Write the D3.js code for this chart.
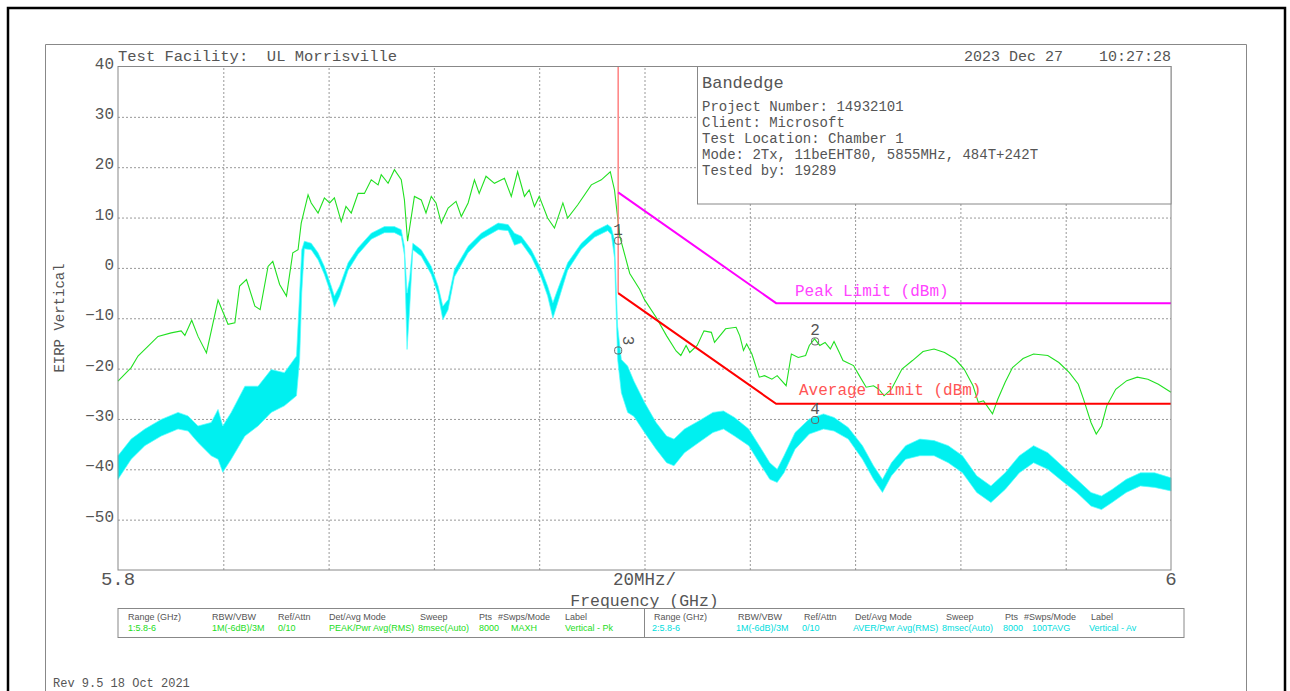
<!DOCTYPE html>
<html>
<head>
<meta charset="utf-8">
<script src="https://cdn.jsdelivr.net/npm/d3@7"></script>
<style>
  body { margin: 0; background: #fff; }
  text { font-family: "Liberation Mono", "DejaVu Sans Mono", monospace; fill: #555; }
</style>
</head>
<body>
<svg id="chart" width="1290" height="691"></svg>
<script>
// peak trace (MAXH), GHz / dBm
const peakFreq = [5.8000,5.8025,5.8038,5.8051,5.8076,5.8101,5.8120,5.8127,5.8140,5.8152,5.8168,5.8190,5.8209,5.8222,5.8231,5.8244,5.8260,5.8270,5.8285,5.8294,5.8307,5.8320,5.8332,5.8342,5.8348,5.8361,5.8367,5.8380,5.8392,5.8402,5.8411,5.8424,5.8433,5.8443,5.8456,5.8468,5.8481,5.8494,5.8500,5.8513,5.8525,5.8538,5.8544,5.8550,5.8563,5.8576,5.8585,5.8595,5.8604,5.8614,5.8627,5.8642,5.8652,5.8665,5.8677,5.8686,5.8699,5.8715,5.8734,5.8747,5.8759,5.8772,5.8781,5.8791,5.8800,5.8816,5.8829,5.8845,5.8854,5.8873,5.8899,5.8918,5.8935,5.8943,5.8953,5.8972,5.8991,5.9000,5.9022,5.9042,5.9060,5.9069,5.9079,5.9086,5.9100,5.9113,5.9127,5.9133,5.9154,5.9174,5.9181,5.9188,5.9194,5.9204,5.9218,5.9228,5.9242,5.9252,5.9269,5.9279,5.9292,5.9306,5.9313,5.9323,5.9333,5.9343,5.9353,5.9360,5.9370,5.9377,5.9397,5.9408,5.9421,5.9435,5.9445,5.9455,5.9469,5.9489,5.9509,5.9529,5.9550,5.9570,5.9590,5.9607,5.9624,5.9634,5.9644,5.9661,5.9671,5.9685,5.9699,5.9719,5.9739,5.9766,5.9787,5.9807,5.9824,5.9834,5.9848,5.9858,5.9868,5.9878,5.9895,5.9916,5.9936,5.9956,5.9976,6.0000];
const peakDbm = [-22.5,-19.8,-17.5,-16.2,-13.6,-12.9,-12.5,-13.4,-10.4,-13.6,-16.9,-6.4,-11.2,-10.9,-3.6,-2.3,-7.6,-8.3,0.3,1.3,-3.3,-5.6,3.0,3.6,8.9,14.5,12.9,10.9,13.9,12.9,13.9,9.2,12.2,10.9,14.8,14.8,17.5,16.5,18.5,16.8,19.5,17.5,13.5,5.3,14.2,13.5,10.9,14.2,12.9,8.9,11.9,13.2,10.2,12.9,17.5,14.8,18.2,16.8,17.8,14.2,19.1,14.2,15.5,12.2,14.2,9.9,7.9,12.9,9.9,12.5,16.5,17.5,19.1,15.5,6.3,-1.1,-4.3,-6.3,-9.8,-13.5,-16.5,-17.4,-15.4,-16.8,-15.4,-12.5,-12.8,-14.8,-12.1,-11.8,-13.5,-16.4,-15.1,-17.1,-21.7,-21.4,-22.1,-21.4,-23.4,-17.1,-17.8,-17.4,-15.4,-14.1,-15.4,-14.8,-16.1,-14.6,-16.8,-18.4,-19.4,-21.4,-23.7,-23.4,-24.1,-25.4,-24.1,-20.1,-18.4,-16.6,-16.1,-16.8,-18.1,-20.1,-23.4,-26.7,-26.4,-29.0,-26.1,-22.7,-19.8,-18.0,-17.1,-17.4,-18.8,-20.8,-23.1,-26.1,-30.7,-33.0,-31.4,-27.4,-24.1,-22.4,-21.7,-22.1,-23.1,-24.7];

// average trace (100TAVG), read as upper / lower edge of the noisy band
const avgFreq = [5.8000,5.8025,5.8051,5.8082,5.8114,5.8133,5.8152,5.8177,5.8190,5.8199,5.8215,5.8241,5.8266,5.8291,5.8316,5.8339,5.8345,5.8349,5.8354,5.8367,5.8380,5.8392,5.8405,5.8411,5.8421,5.8437,5.8456,5.8481,5.8506,5.8525,5.8538,5.8544,5.8549,5.8554,5.8560,5.8576,5.8595,5.8608,5.8617,5.8627,5.8639,5.8665,5.8690,5.8722,5.8741,5.8753,5.8766,5.8785,5.8804,5.8816,5.8826,5.8835,5.8854,5.8880,5.8905,5.8930,5.8937,5.8943,5.8949,5.8956,5.8968,5.8980,5.9000,5.9022,5.9042,5.9056,5.9076,5.9103,5.9130,5.9150,5.9171,5.9198,5.9218,5.9238,5.9252,5.9265,5.9286,5.9313,5.9340,5.9360,5.9387,5.9414,5.9435,5.9452,5.9469,5.9496,5.9523,5.9550,5.9577,5.9604,5.9631,5.9658,5.9685,5.9712,5.9739,5.9766,5.9793,5.9821,5.9848,5.9868,5.9888,5.9915,5.9942,5.9969,6.0000];
const avgHigh = [-37.3,-34.0,-32.0,-30.1,-28.7,-29.4,-31.4,-30.7,-28.1,-31.4,-28.7,-23.5,-23.5,-20.2,-20.8,-17.5,-5.0,3.6,5.3,4.9,3.0,0.3,-3.6,-5.6,-3.6,1.0,4.0,6.9,8.2,8.2,7.6,4.3,-5.0,-2.0,4.9,3.6,0.3,-3.6,-7.6,-6.3,-0.3,4.3,6.9,8.9,8.6,6.9,6.3,3.6,-0.3,-3.6,-6.9,-4.3,1.0,4.9,7.3,8.6,8.0,5.6,-11.6,-18.2,-19.5,-22.5,-26.7,-30.7,-33.4,-34.0,-32.0,-30.4,-28.7,-28.4,-29.7,-32.0,-35.3,-38.7,-40.0,-37.3,-32.7,-30.0,-29.0,-29.7,-31.7,-35.3,-39.3,-42.0,-38.7,-35.3,-34.0,-34.3,-35.3,-37.3,-41.3,-43.3,-40.7,-37.3,-35.3,-36.7,-39.3,-42.0,-44.6,-45.3,-44.0,-42.0,-40.7,-40.7,-41.7];
const avgLow = [-42.0,-38.0,-35.3,-33.4,-32.0,-32.4,-34.7,-37.3,-38.0,-40.6,-38.0,-33.4,-31.4,-28.7,-27.4,-25.4,-18.2,-5.0,3.8,3.6,1.6,-1.3,-5.3,-7.8,-5.6,-0.5,2.7,5.7,7.0,7.0,6.3,2.5,-16.2,-8.0,3.6,2.3,-1.3,-5.3,-10.3,-8.3,-1.8,3.0,5.7,7.6,7.4,4.5,5.0,2.2,-2.0,-5.6,-10.0,-7.0,-0.5,3.7,6.1,7.4,6.6,2.0,-18.2,-24.8,-28.7,-29.5,-32.7,-36.0,-38.7,-39.3,-36.7,-34.7,-32.7,-32.0,-33.4,-35.3,-38.7,-42.0,-42.6,-40.7,-36.0,-33.0,-32.0,-32.4,-34.0,-38.0,-42.0,-44.6,-41.3,-38.0,-37.3,-37.3,-38.7,-40.7,-44.6,-46.6,-44.0,-40.7,-38.7,-40.0,-42.3,-44.6,-47.3,-48.0,-46.6,-44.6,-43.3,-43.6,-44.3];

// limits
const bandEdge = 5.895;
const peakLimitFreq = [5.895, 5.925, 6.0];
const peakLimitDbm = [15, -7, -7];
const avgLimitFreq = [5.895, 5.925, 6.0];
const avgLimitDbm = [-5, -27, -27];

// markers
const markerIds = ["1", "2", "3", "4"];
const markerFreq = [5.895, 5.9324, 5.895, 5.9324];
const markerDbm = [5.4, -14.6, -16.4, -30.2];

const yTicks = [40, 30, 20, 10, 0, -10, -20, -30, -40, -50];
const xGrid = d3.range(1, 10).map(i => 5.8 + i * 0.02);

const infoLines = ["Project Number: 14932101", "Client: Microsoft", "Test Location: Chamber 1",
  "Mode: 2Tx, 11beEHT80, 5855MHz, 484T+242T", "Tested by: 19289"];
const tableHeaders = ["Range (GHz)", "RBW/VBW", "Ref/Attn", "Det/Avg Mode", "Sweep", "Pts", "#Swps/Mode", "Label"];
const trace1Settings = ["1:5.8-6", "1M(-6dB)/3M", "0/10", "PEAK/Pwr Avg(RMS)", "8msec(Auto)", "8000", "MAXH", "Vertical - Pk"];
const trace2Settings = ["2:5.8-6", "1M(-6dB)/3M", "0/10", "AVER/Pwr Avg(RMS)", "8msec(Auto)", "8000", "100TAVG", "Vertical - Av"];

const svg = d3.select("#chart");
const plotL = 118, plotR = 1171, plotT = 66.5, plotB = 570;

const x = d3.scaleLinear().domain([5.8, 6.0]).range([plotL, plotR]);
const y = d3.scaleLinear().domain([-60, 40]).range([plotB, plotT]);

// page frames
svg.append("rect").attr("x", 8).attr("y", 8).attr("width", 1277).attr("height", 700)
  .attr("fill", "none").attr("stroke", "#000").attr("stroke-width", 2.5);
svg.append("path").attr("d", "M45.5,700V44.5H1246.5V700")
  .attr("fill", "none").attr("stroke", "#888").attr("stroke-width", 1);

// grid
svg.append("g").attr("transform", `translate(0,${plotB})`)
  .call(d3.axisBottom(x).tickValues(xGrid).tickSize(-(plotB - plotT)).tickFormat(""))
  .call(g => g.select(".domain").remove())
  .call(g => g.selectAll("line").attr("stroke", "#999").attr("stroke-dasharray", "2,2"));
svg.append("g").attr("transform", `translate(${plotL},0)`)
  .call(d3.axisLeft(y).tickValues(yTicks.slice(1)).tickSize(-(plotR - plotL)).tickFormat(""))
  .call(g => g.select(".domain").remove())
  .call(g => g.selectAll("line").attr("stroke", "#999").attr("stroke-dasharray", "2,2"));

// y tick labels
svg.append("g").attr("transform", `translate(${plotL},0)`)
  .call(d3.axisLeft(y).tickValues(yTicks).tickSize(0).tickPadding(4))
  .call(g => g.select(".domain").remove())
  .call(g => g.selectAll("text").attr("font-size", 16).attr("font-family", "Liberation Mono, monospace")
    .attr("fill", "#555").attr("dy", "0.1em"));

// average trace band
const avgData = avgFreq.map((f, i) => ({ f, hi: avgHigh[i], lo: avgLow[i] }));
svg.append("path").datum(avgData)
  .attr("d", d3.area().x(d => x(d.f)).y0(d => y(d.lo)).y1(d => y(d.hi)))
  .attr("fill", "#00f0f0").attr("stroke", "#55ffff").attr("stroke-width", 0.7);

// peak trace
const peakData = peakFreq.map((f, i) => ({ f, v: peakDbm[i] }));
svg.append("path").datum(peakData)
  .attr("d", d3.line().x(d => x(d.f)).y(d => y(d.v)))
  .attr("fill", "none").attr("stroke", "#22e022").attr("stroke-width", 1.1);

// limit lines
svg.append("line").attr("x1", x(bandEdge)).attr("x2", x(bandEdge))
  .attr("y1", y(40)).attr("y2", y(avgLimitDbm[0]))
  .attr("stroke", "#ff8080").attr("stroke-width", 1.5);
svg.append("path").datum(peakLimitFreq.map((f, i) => [f, peakLimitDbm[i]]))
  .attr("d", d3.line().x(d => x(d[0])).y(d => y(d[1])))
  .attr("fill", "none").attr("stroke", "#ff00ff").attr("stroke-width", 2);
svg.append("path").datum(avgLimitFreq.map((f, i) => [f, avgLimitDbm[i]]))
  .attr("d", d3.line().x(d => x(d[0])).y(d => y(d[1])))
  .attr("fill", "none").attr("stroke", "#ff0000").attr("stroke-width", 2);
svg.append("text").attr("x", 795).attr("y", 296).attr("font-size", 16)
  .style("fill", "#ff44ff").text("Peak Limit (dBm)");
svg.append("text").attr("x", 799).attr("y", 395).attr("font-size", 16)
  .style("fill", "#ff5555").text("Average Limit (dBm)");

// markers
markerIds.forEach((id, i) => {
  const mx = x(markerFreq[i]), my = y(markerDbm[i]);
  svg.append("rect").attr("x", mx - 3.5).attr("y", my - 3.5).attr("width", 7).attr("height", 7)
    .attr("rx", 2.5).attr("fill", "none").attr("stroke", "#666").attr("stroke-width", 1);
  const t = svg.append("text").attr("font-size", 16).attr("text-anchor", "middle").text(id);
  if (id === "3") t.attr("transform", `translate(${mx + 5},${my - 10}) rotate(90)`);
  else t.attr("x", mx).attr("y", my - 6);
});

// plot border
svg.append("rect").attr("x", plotL).attr("y", plotT).attr("width", plotR - plotL).attr("height", plotB - plotT)
  .attr("fill", "none").attr("stroke", "#888").attr("stroke-width", 1);

// info box
svg.append("rect").attr("x", 697.5).attr("y", plotT).attr("width", plotR - 697.5).attr("height", 204 - plotT)
  .attr("fill", "#fff").attr("stroke", "#888").attr("stroke-width", 1);
svg.append("text").attr("x", 702).attr("y", 88).attr("font-size", 17).text("Bandedge");
svg.append("g").selectAll("text").data(infoLines).join("text")
  .attr("x", 702).attr("y", (d, i) => 111 + i * 16).attr("font-size", 14).text(d => d);

// titles
svg.append("text").attr("x", plotL).attr("y", 61).attr("font-size", 15.5).attr("xml:space", "preserve")
  .text("Test Facility:  UL Morrisville");
svg.append("text").attr("x", plotR).attr("y", 61).attr("font-size", 15).attr("text-anchor", "end")
  .attr("xml:space", "preserve").text("2023 Dec 27    10:27:28");
svg.append("text").attr("transform", "translate(64,318) rotate(-90)").attr("font-size", 14)
  .attr("text-anchor", "middle").text("EIRP Vertical");

// x labels
svg.append("text").attr("x", plotL).attr("y", 585).attr("font-size", 19).attr("text-anchor", "middle").text("5.8");
svg.append("text").attr("x", (plotL + plotR) / 2).attr("y", 585).attr("font-size", 17.5).attr("text-anchor", "middle").text("20MHz/");
svg.append("text").attr("x", plotR).attr("y", 585).attr("font-size", 19).attr("text-anchor", "middle").text("6");
svg.append("text").attr("x", (plotL + plotR) / 2).attr("y", 606).attr("font-size", 16.5).attr("text-anchor", "middle").text("Frequency (GHz)");

// settings table
svg.append("rect").attr("x", 118).attr("y", 608.5).attr("width", 1066).attr("height", 29)
  .attr("fill", "#fff").attr("stroke", "#888").attr("stroke-width", 1);
svg.append("line").attr("x1", 644.5).attr("x2", 644.5).attr("y1", 608.5).attr("y2", 637.5)
  .attr("stroke", "#888");
const headOffsets = [10, 94, 160, 211, 302, 361, 380, 447];
const valOffsets = [10, 94, 160, 211, 300, 361, 393, 447];
[[trace1Settings, "#22dd22", 0, 0], [trace2Settings, "#00dddd", 526, 524]].forEach(([vals, col, dh, dv]) => {
  svg.append("g").selectAll("text").data(tableHeaders).join("text")
    .attr("x", (d, i) => 118 + dh + headOffsets[i]).attr("y", 620).attr("font-size", 9)
    .style("font-family", "Liberation Sans, Arial, sans-serif").text(d => d);
  svg.append("g").selectAll("text").data(vals).join("text")
    .attr("x", (d, i) => 118 + dv + valOffsets[i] + (i === 6 && dv ? -3 : 0)).attr("y", 631).attr("font-size", 9)
    .style("font-family", "Liberation Sans, Arial, sans-serif")
    .style("fill", col).text(d => d);
});

svg.append("text").attr("x", 53).attr("y", 687).attr("font-size", 12).text("Rev 9.5 18 Oct 2021");
</script>
</body>
</html>
